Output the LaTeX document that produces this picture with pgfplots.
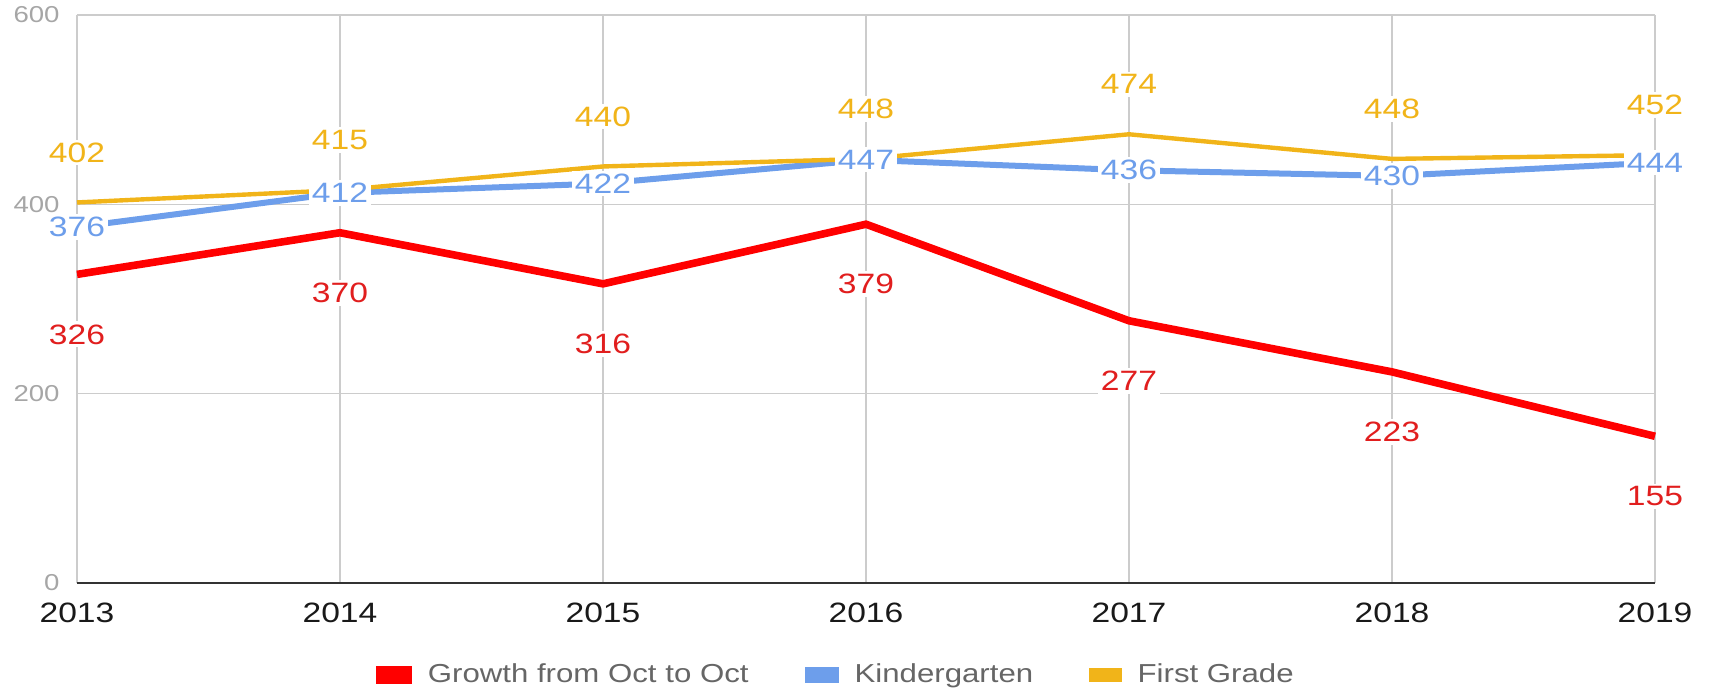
\documentclass[border=0pt]{standalone}
\usepackage{fontspec}
\setmainfont{Liberation Sans}[FakeStretch=1.2]
\usepackage{pgfplots}
\pgfplotsset{compat=1.18}
\usetikzlibrary{calc}

\definecolor{growth}{RGB}{255,0,0}
\definecolor{growthtxt}{RGB}{225,30,30}
\definecolor{kinder}{RGB}{109,158,235}
\definecolor{first}{RGB}{241,180,25}

\pgfplotstableread{
year growth kinder first
2013 326 376 402
2014 370 412 415
2015 316 422 440
2016 379 447 448
2017 277 436 474
2018 223 430 448
2019 155 444 452
}\datatable

\begin{document}
\begin{tikzpicture}
\begin{axis}[
    name=ax,
    scale only axis,
    width=789pt, height=284pt,
    xmin=2013, xmax=2019,
    ymin=0, ymax=600,
    xtick={2013,2014,2015,2016,2017,2018,2019},
    xticklabels={2013,2014,2015,2016,2017,2018,2019},
    ytick={0,200,400,600},
    /pgf/number format/assume math mode=true,
    major tick length=0pt,
    grid=major,
    major grid style={draw=black!20, line width=0.75pt},
    axis line style={draw=none},
    xticklabel style={font=\fontsize{14}{14}\selectfont, text=black!90, inner sep=0pt, anchor=north, yshift=-10pt},
    yticklabel style={font=\fontsize{11.5}{11.5}\selectfont, text=black!35, inner sep=0pt, anchor=east, xshift=-8.5pt},
    clip=false,
    legend style={at={(0.4816,0)}, anchor=center, yshift=-46pt, draw=none,
        font=\fontsize{13}{15}\selectfont, text=black!60, legend columns=3,
        /tikz/every odd column/.append style={column sep=6pt},
        /tikz/every even column/.append style={column sep=26pt}},
    legend image code/.code={\fill (0pt,-2.6pt) rectangle (14pt,2.6pt);},
]
% lines
\addplot[color=growth, line width=3.8pt] table[x=year, y=growth] {\datatable};
\addlegendentry{Growth from Oct to Oct}
\addplot[color=kinder, line width=3pt] table[x=year, y=kinder] {\datatable};
\addlegendentry{Kindergarten}
\addplot[color=first, line width=2.2pt] table[x=year, y=first] {\datatable};
\addlegendentry{First Grade}

% bottom axis line
\draw[black!80, line width=0.6pt] (rel axis cs:0,0) -- (rel axis cs:1,0);

% data labels on top
\addplot[draw=none, forget plot, nodes near coords,
    every node near coord/.append style={font=\fontsize{14}{14}\selectfont, text=growthtxt, fill=white, inner sep=1.5pt, anchor=center, yshift=-30pt}]
    table[x=year, y=growth] {\datatable};
\addplot[draw=none, forget plot, nodes near coords,
    every node near coord/.append style={font=\fontsize{14}{14}\selectfont, text=kinder, fill=white, inner sep=1.5pt, anchor=center}]
    table[x=year, y=kinder] {\datatable};
\addplot[draw=none, forget plot, nodes near coords,
    every node near coord/.append style={font=\fontsize{14}{14}\selectfont, text=first, fill=white, inner sep=1.5pt, anchor=center, yshift=25pt}]
    table[x=year, y=first] {\datatable};
\end{axis}
\pgfresetboundingbox
\path ([xshift=-38.5pt,yshift=-54pt]ax.south west) rectangle ([xshift=28pt,yshift=7.5pt]ax.north east);
\end{tikzpicture}
\end{document}
